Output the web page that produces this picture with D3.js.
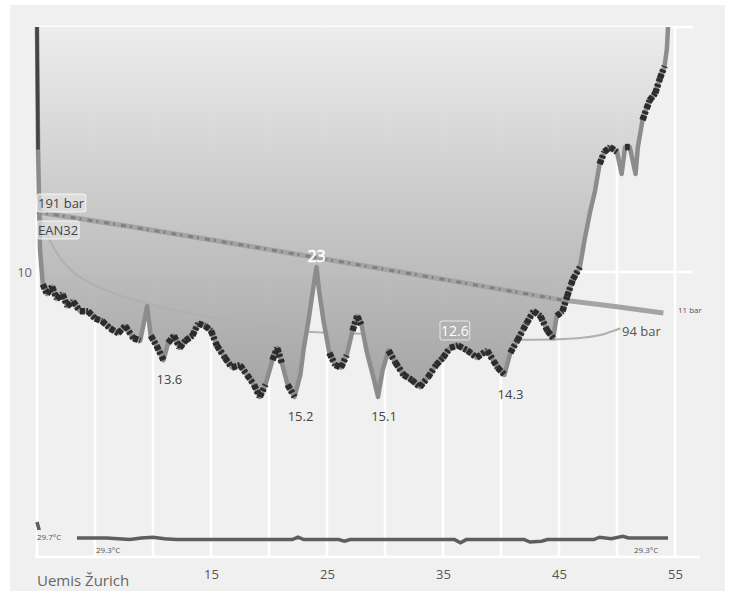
<!DOCTYPE html>
<html>
<head>
<meta charset="utf-8">
<script src="https://cdn.jsdelivr.net/npm/d3@7"></script>
<style>
  body { margin: 0; background: #fff; }
  svg { display: block; font-family: "Open Sans", "Noto Sans", sans-serif; }
</style>
</head>
<body>
<svg id="chart" width="733" height="593"></svg>
<script>
// dive profile: time (min) / depth (m)
var profTime = [0, 0.09, 0.26, 0.5, 0.86, 1.3, 1.7, 2.2, 2.6, 3.1, 3.7, 4.4, 5.0, 5.6, 6.3, 7.0, 7.6, 8.3, 8.9, 9.5, 9.8,
  10.3, 10.9, 11.3, 11.8, 12.3, 12.8, 13.4, 13.9, 14.5, 15.0, 15.5, 16.2, 16.8, 17.5, 18.1, 18.7, 19.2, 19.7,
  20.3, 20.7, 21.1, 21.6, 22.2, 22.7, 23.0, 23.4, 23.8, 24.1, 24.3, 24.7, 25.2, 25.7, 26.2, 26.7, 27.2, 27.6,
  28.0, 28.4, 29.0, 29.4, 29.8, 30.3, 30.9, 31.6, 32.3, 33.0, 33.7, 34.4, 35.0, 35.6, 36.3, 37.1, 37.9, 38.8,
  39.7, 40.3, 40.8, 41.4, 42.2, 42.8, 43.4, 44.0, 44.5, 44.8, 45.3, 45.7, 46.2, 46.8, 47.2, 47.7, 48.1, 48.5,
  48.9, 49.4, 50.0, 50.4, 50.7, 51.1, 51.6, 51.8, 52.2, 52.8, 53.3, 53.7, 54.1, 54.3, 54.4];
var profDepth = [0, 5.0, 9.1, 10.5, 10.9, 10.6, 11.1, 10.9, 11.4, 11.2, 11.6, 11.6, 11.9, 12.0, 12.3, 12.5, 12.2, 12.7, 12.8, 11.4, 12.6,
  13.0, 13.6, 12.9, 12.6, 13.1, 12.8, 12.6, 12.1, 12.2, 12.4, 13.0, 13.5, 13.9, 13.8, 14.2, 14.6, 15.1, 14.6,
  13.6, 13.1, 13.7, 14.6, 15.1, 14.2, 13.1, 12.0, 10.7, 9.8, 10.7, 12.0, 13.3, 13.8, 13.9, 13.4, 12.4, 11.8,
  12.2, 13.2, 14.3, 15.1, 14.0, 13.2, 13.7, 14.2, 14.4, 14.7, 14.3, 13.8, 13.5, 13.1, 13.0, 13.2, 13.5, 13.2,
  13.9, 14.2, 13.3, 12.8, 12.1, 11.6, 11.8, 12.4, 12.7, 11.8, 11.6, 11.0, 10.3, 9.8, 8.7, 7.5, 6.7, 5.6,
  5.1, 4.9, 5.1, 6.0, 4.9, 4.9, 6.0, 4.9, 3.8, 3.0, 2.7, 2.1, 1.6, 0.9, 0.0];

// running mean depth (m)
var meanTime = [0.1, 0.26, 1.1, 2.2, 3.7, 6.6, 9.5, 12.3, 16.6, 19.8, 23.5, 28.4, 33.0, 37.1, 42.8, 47.1, 48.5, 49.7, 50.3];
var meanDepth = [7.0, 7.7, 8.8, 9.6, 10.3, 10.9, 11.3, 11.6, 12.0, 12.2, 12.5, 12.5, 12.7, 12.7, 12.8, 12.7, 12.6, 12.4, 12.3];

// cylinder pressure (bar)
var presTime = [0, 8, 16, 24, 35, 45.3, 50, 54];
var presBar = [191, 165, 138, 110, 71, 34, 22, 11];

// water temperature (°C)
var tempTime = [0, 0.3, 3.5, 6.0, 8.0, 9.0, 10.0, 11.0, 12.0, 22.0, 22.5, 23.0, 26.0, 26.5, 27.0, 36.0, 36.5, 37.0,
  42.0, 42.5, 43.5, 44.0, 48.0, 48.5, 49.5, 50.5, 51.0, 54.4];
var tempC = [30.5, 29.7, 29.5, 29.5, 29.4, 29.5, 29.55, 29.45, 29.4, 29.4, 29.55, 29.4, 29.4, 29.3, 29.4, 29.4, 29.2, 29.4,
  29.4, 29.25, 29.3, 29.4, 29.4, 29.55, 29.45, 29.6, 29.5, 29.5];

var xTicks = [15, 25, 35, 45, 55];
var yTicks = [10];

// depth labels on the profile
var minLabels = [{t: 10.9, d: 13.6, text: "13.6"}, {t: 22.2, d: 15.1, text: "15.2"},
                 {t: 29.4, d: 15.1, text: "15.1"}, {t: 40.3, d: 14.2, text: "14.3"}];

var svg = d3.select("#chart");

var x = d3.scaleLinear().domain([0, 55]).range([37, 675]);
var y = d3.scaleLinear().domain([0, 10]).range([27, 272]);
var yP = d3.scaleLinear().domain([11, 191]).range([313, 212]);
var yT = d3.scaleLinear().domain([29, 30]).range([546, 530]);

svg.append("rect").attr("x", 10).attr("y", 5).attr("width", 715).attr("height", 586).attr("fill", "#f0f0f0");

// grid
var grid = svg.append("g").attr("stroke", "#fff").attr("stroke-width", 2.5);
grid.selectAll("line.v").data(d3.range(0, 56, 5)).enter().append("line")
  .attr("x1", d => x(d)).attr("x2", d => x(d)).attr("y1", y(0)).attr("y2", 557);
grid.selectAll("line.h").data([0, 10]).enter().append("line")
  .attr("x1", x(0)).attr("x2", 693).attr("y1", d => y(d)).attr("y2", d => y(d));
grid.append("line").attr("x1", 35).attr("x2", 700).attr("y1", 557).attr("y2", 557);

var profile = profTime.map((t, i) => ({t: t, d: profDepth[i]}));

// gradient fill
var defs = svg.append("defs");
var grad = defs.append("linearGradient").attr("id", "fillGrad")
  .attr("gradientUnits", "userSpaceOnUse").attr("x1", 0).attr("x2", 0).attr("y1", y(0)).attr("y2", y(16));
grad.append("stop").attr("offset", 0).attr("stop-color", "#ececec");
grad.append("stop").attr("offset", 1).attr("stop-color", "#989898");

svg.append("path").datum(profile)
  .attr("fill", "url(#fillGrad)").attr("opacity", 0.92)
  .attr("d", d3.area().x(d => x(d.t)).y0(y(0)).y1(d => y(d.d)));

// mean depth
svg.append("path").datum(meanTime.map((t, i) => ({t: t, d: meanDepth[i]})))
  .attr("fill", "none").attr("stroke", "#b0b0b0").attr("stroke-width", 2)
  .attr("d", d3.line().x(d => x(d.t)).y(d => y(d.d)).curve(d3.curveBasis));

// pressure
var pres = presTime.map((t, i) => ({t: t, p: presBar[i]}));
var pLine = d3.line().x(d => x(d.t)).y(d => yP(d.p));
svg.append("path").datum(pres).attr("fill", "none").attr("stroke", "#a4a4a4").attr("stroke-width", 5).attr("d", pLine);
svg.append("path").datum(pres.filter(d => d.t < 46)).attr("fill", "none")
  .attr("stroke", "#808080").attr("stroke-width", 3).attr("stroke-dasharray", "5 4 2 6").attr("d", pLine);

// profile line
var line = d3.line().x(d => x(d.t)).y(d => y(d.d));
svg.append("path").datum(profile).attr("fill", "none").attr("stroke", "#8c8c8c")
  .attr("stroke-width", 4.5).attr("stroke-linejoin", "round").attr("d", line);
var segs = d3.pairs(profile).filter(p => {
  var v = Math.abs(p[1].d - p[0].d) / (p[1].t - p[0].t);
  return v < 1.6;
});
svg.append("g").selectAll("path").data(segs).enter().append("path")
  .attr("fill", "none").attr("stroke", "#2c2c2c").attr("stroke-width", 6.5)
  .attr("stroke-dasharray", "5 1.5 3 2.5").attr("d", line);
// fast first descent
svg.append("path").datum(profile.slice(0, 2)).attr("fill", "none").attr("stroke", "#444")
  .attr("stroke-width", 3.5).attr("d", line);

// temperature
svg.append("path").datum(tempTime.map((t, i) => ({t: t, c: tempC[i]})))
  .attr("fill", "none").attr("stroke", "#5e5e5e").attr("stroke-width", 3.5)
  .attr("d", d3.line().x(d => x(d.t)).y(d => yT(d.c)));
svg.append("rect").attr("x", 37).attr("y", 530).attr("width", 40).attr("height", 11).attr("fill", "#f0f0f0");

// axes
var xAxis = svg.append("g").attr("transform", "translate(0,567)")
  .call(d3.axisBottom(x).tickValues(xTicks).tickSize(0).tickPadding(3));
xAxis.select(".domain").remove();
xAxis.selectAll("text").attr("fill", "#555").attr("font-size", 13).attr("font-family", "Open Sans");

var yAxis = svg.append("g").attr("transform", "translate(37,0)")
  .call(d3.axisLeft(y).tickValues(yTicks).tickSize(0).tickPadding(5));
yAxis.select(".domain").remove();
yAxis.selectAll("text").attr("fill", "#666").attr("font-size", 13).attr("font-family", "Open Sans");

// labels
svg.selectAll("text.min").data(minLabels).enter().append("text")
  .attr("x", d => x(d.t) + 6).attr("y", d => y(d.d) + 24).attr("text-anchor", "middle")
  .attr("font-size", 13).attr("fill", "#444").text(d => d.text);

function boxLabel(tx, ty, txt, size, fill, boxFill, boxStroke) {
  var g = svg.append("g");
  var t = g.append("text").attr("x", tx).attr("y", ty).attr("font-size", size).attr("fill", fill).text(txt);
  var b = t.node().getBBox();
  g.insert("rect", "text").attr("x", b.x - 1).attr("y", b.y).attr("width", b.width + 2).attr("height", b.height)
    .attr("rx", 2).attr("fill", boxFill).attr("stroke", boxStroke);
}
boxLabel(38, 208, "191 bar", 13, "#444", "rgba(235,235,235,0.6)", "rgba(255,255,255,0.8)");
boxLabel(38, 235, "EAN32", 13, "#444", "rgba(235,235,235,0.6)", "rgba(255,255,255,0.8)");
boxLabel(441, 336, "12.6", 14, "#fff", "none", "rgba(255,255,255,0.7)");

svg.append("text").attr("x", x(24.1)).attr("y", 262).attr("text-anchor", "middle")
  .attr("font-size", 16).attr("fill", "#fff").attr("stroke", "#fff").attr("stroke-width", 0.6).text("23");

svg.append("text").attr("x", 622).attr("y", 336).attr("font-size", 13).attr("fill", "#555").text("94 bar");
svg.append("text").attr("x", 678).attr("y", 313).attr("font-size", 8).attr("fill", "#555").text("11 bar");

svg.append("text").attr("x", 37).attr("y", 540).attr("font-size", 8).attr("fill", "#555").text("29.7°C");
svg.append("text").attr("x", 96).attr("y", 553).attr("font-size", 8).attr("fill", "#555").text("29.3°C");
svg.append("text").attr("x", 634).attr("y", 553).attr("font-size", 8).attr("fill", "#555").text("29.3°C");

svg.append("text").attr("x", 37).attr("y", 586).attr("font-size", 15).attr("fill", "#666").text("Uemis Žurich");
</script>
</body>
</html>
